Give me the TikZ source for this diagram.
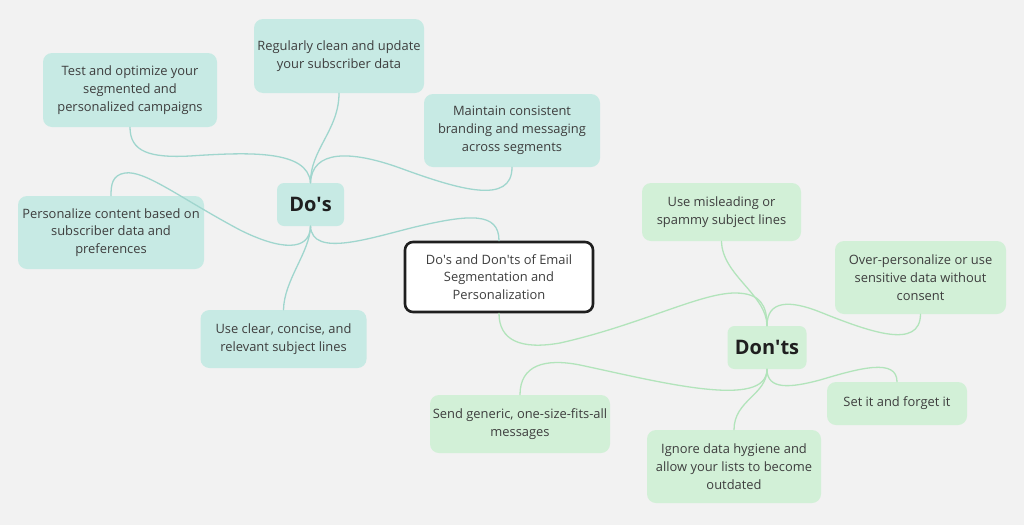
\documentclass[tikz,border=0pt]{standalone}
\usepackage{fontspec}
\setmainfont{Open Sans}
\usetikzlibrary{positioning}
\definecolor{mapbg}{RGB}{242,242,242}
\definecolor{dofill}{RGB}{199,234,228}
\definecolor{doline}{RGB}{160,214,206}
\definecolor{dontfill}{RGB}{210,240,215}
\definecolor{dontline}{RGB}{178,228,187}
\definecolor{maptext}{RGB}{62,62,62}
\tikzset{
  mtopic/.style={rectangle, rounded corners=9pt, draw=none, align=center,
                 inner sep=2pt, text=maptext,
                 font=\fontsize{12.9}{17.7}\selectfont},
  mdo/.style   ={mtopic, fill=dofill},
  mdont/.style ={mtopic, fill=dontfill},
  mhead/.style ={rectangle, rounded corners=7pt, draw=none, inner sep=2pt,
                 text=black!88, font=\fontsize{20}{24}\selectfont\bfseries},
  mroot/.style ={mtopic, draw=black!88, line width=2.6pt, fill=white, rounded corners=8pt},
  doedge/.style  ={line width=1.3pt, doline, line cap=round},
  dontedge/.style={line width=1.3pt, dontline, line cap=round},
}
\begin{document}
\begin{tikzpicture}[x=1pt, y=-1pt]
  \fill[mapbg] (0,0) rectangle (1024,525);
  \useasboundingbox (0,0) rectangle (1024,525);

  \node[mroot, minimum width=188pt, minimum height=70pt] (root) at (499,277)
    {Do\textquotesingle s and Don\textquotesingle ts of Email\\Segmentation and\\Personalization};

  \node[mhead, fill=dofill, minimum width=67pt, minimum height=43pt] (dos) at (310.5,204.5) {Do\textquotesingle s};
  \node[mhead, fill=dontfill, minimum width=79pt, minimum height=43pt] (dnt) at (767,347.5) {Don\textquotesingle ts};

  \node[mdo, minimum width=174pt, minimum height=74pt] (tst) at (130,90)
    {Test and optimize your\\segmented and\\personalized campaigns};
  \node[mdo, minimum width=170pt, minimum height=74pt] (reg) at (339,56)
    {Regularly clean and update\\your subscriber data};
  \node[mdo, minimum width=176pt, minimum height=73pt] (mnt) at (512,130.5)
    {Maintain consistent\\branding and messaging\\across segments};
  \node[mdo, minimum width=186pt, minimum height=73pt] (pers) at (111,232.5)
    {Personalize content based on\\subscriber data and\\preferences};
  \node[mdo, minimum width=166pt, minimum height=58pt] (clr) at (283.5,339)
    {Use clear, concise, and\\relevant subject lines};

  \node[mdont, minimum width=159pt, minimum height=58pt] (mis) at (721.5,212)
    {Use misleading or\\spammy subject lines};
  \node[mdont, minimum width=171pt, minimum height=73pt] (ovr) at (920.5,277.5)
    {Over-personalize or use\\sensitive data without\\consent};
  \node[mdont, minimum width=140pt, minimum height=43pt] (set) at (897,403.5)
    {Set it and forget it};
  \node[mdont, minimum width=174pt, minimum height=73pt] (ign) at (734,466.5)
    {Ignore data hygiene and\\allow your lists to become\\outdated};
  \node[mdont, minimum width=180pt, minimum height=58pt] (snd) at (520,424)
    {Send generic, one-size-fits-all\\messages};

  \draw[doedge] (root.north) .. controls (499,212) and (470,214) .. (415,227)
                .. controls (370,238) and (312,258) .. (dos.south);
  \draw[doedge] (tst.south) .. controls (130,152) and (150,158) .. (190,156)
                .. controls (250,152) and (308,150) .. (dos.north);
  \draw[doedge] (reg.south) .. controls (339,130) and (310,150) .. (dos.north);
  \draw[doedge] (dos.north) .. controls (312,150) and (350,150) .. (400,168)
                .. controls (460,190) and (512,205) .. (mnt.south);
  \draw[doedge] (dos.south) .. controls (310,252) and (280,250) .. (240,230)
                .. controls (180,198) and (145,170) .. (125,173)
                .. controls (112,175) and (111,185) .. (pers.north);
  \draw[doedge] (clr.north) .. controls (284,280) and (310,252) .. (dos.south);

  \draw[dontedge] (root.south) .. controls (499,340) and (520,350) .. (560,343)
                  .. controls (640,325) and (700,293) .. (735,293)
                  .. controls (760,293) and (767,305) .. (dnt.north);
  \draw[dontedge] (mis.south) .. controls (722,275) and (767,295) .. (dnt.north);
  \draw[dontedge] (dnt.north) .. controls (767,300) and (790,300) .. (820,312)
                  .. controls (870,332) and (920,350) .. (ovr.south);
  \draw[dontedge] (dnt.south) .. controls (767,390) and (790,388) .. (820,380)
                  .. controls (860,368) and (897,358) .. (set.north);
  \draw[dontedge] (snd.north) .. controls (520,365) and (545,358) .. (580,365)
                  .. controls (660,382) and (767,410) .. (dnt.south);
  \draw[dontedge] (ign.north) .. controls (734,400) and (767,395) .. (dnt.south);
\end{tikzpicture}
\end{document}
